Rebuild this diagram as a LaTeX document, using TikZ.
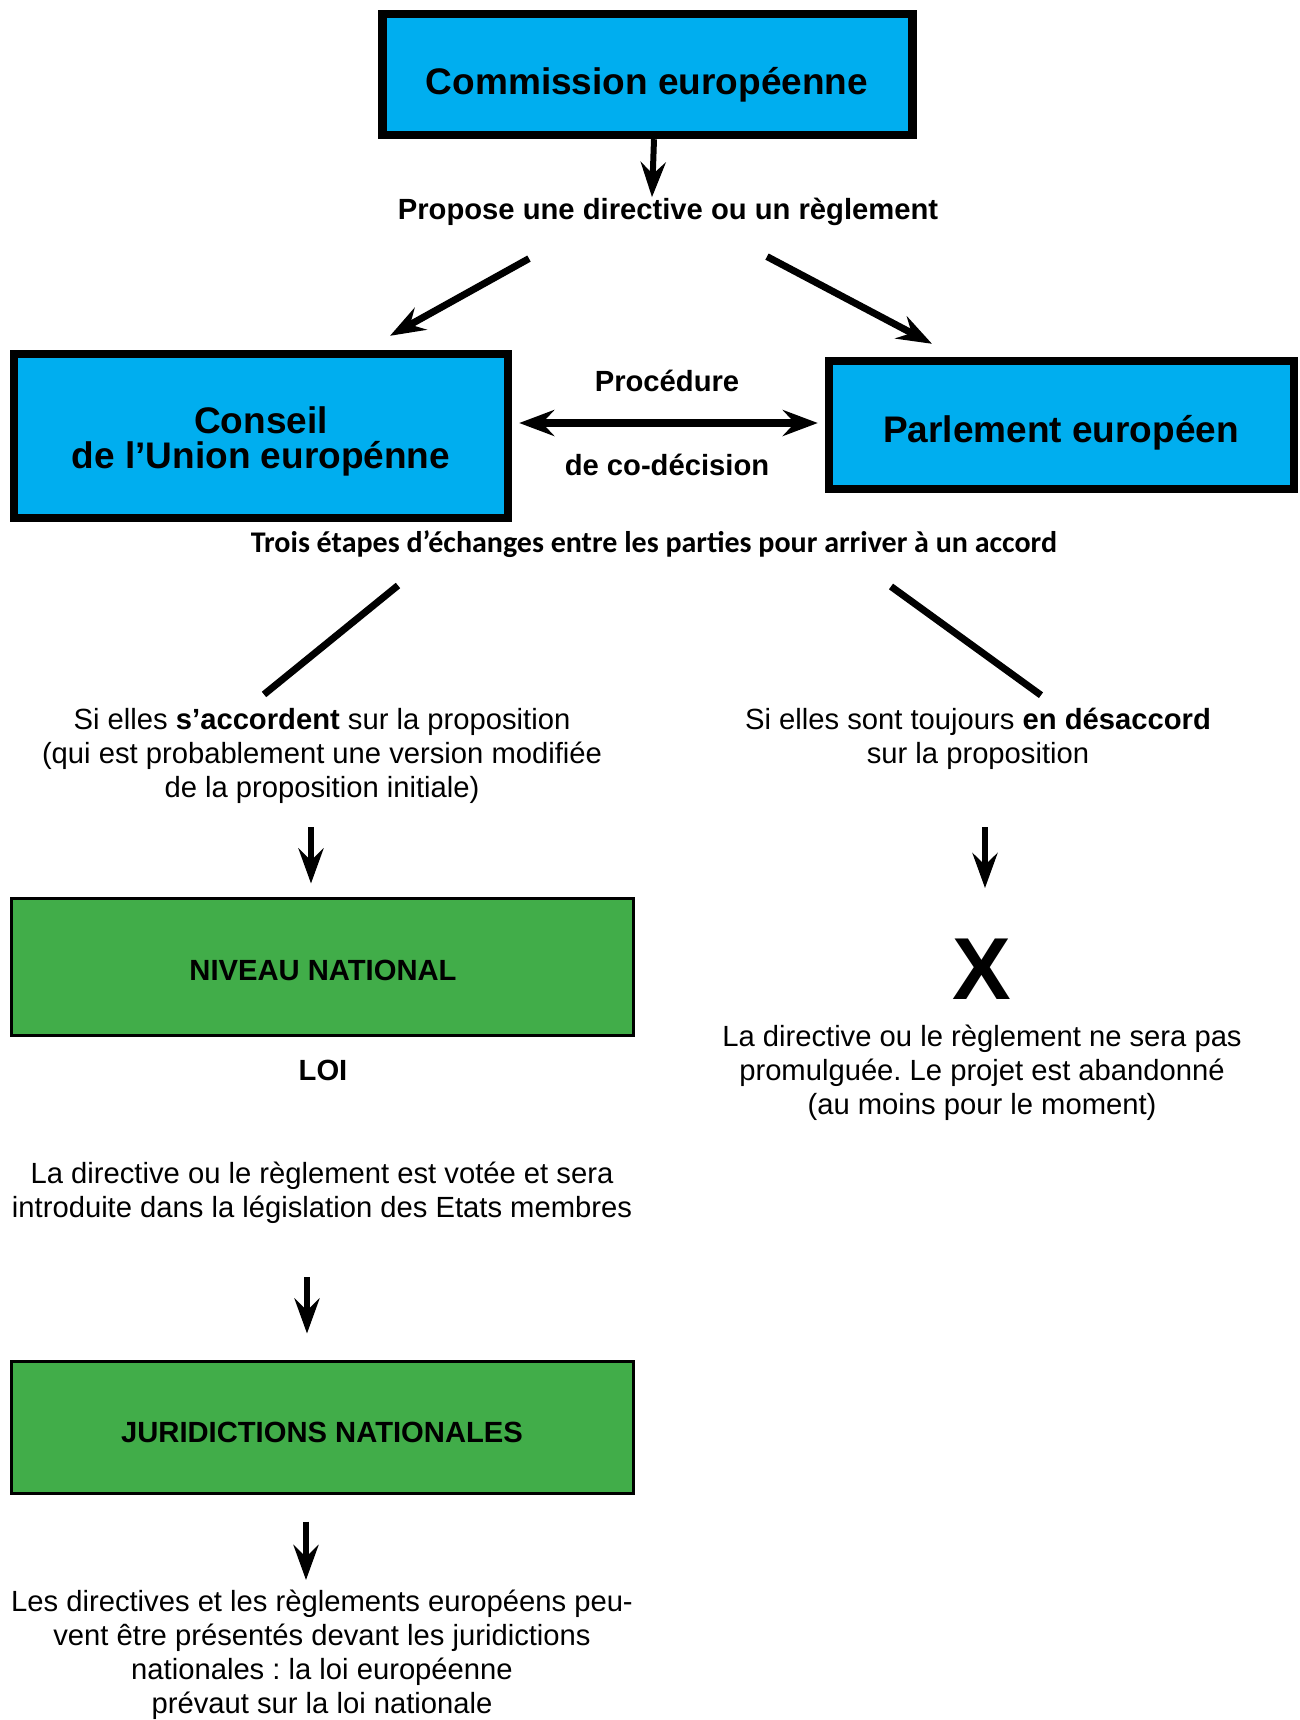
\documentclass[tikz,border=0pt]{standalone}
\usepackage{fontspec}
\setmainfont{Liberation Sans}
\newfontfamily\calib{Carlito}
\usetikzlibrary{arrows.meta,calc}
\definecolor{eublue}{RGB}{0,174,239}
\definecolor{natgreen}{RGB}{65,173,73}
\frenchspacing
\begin{document}
\begin{tikzpicture}[x=0.5pt,y=-0.5pt,
  bluebox/.style={draw=black,fill=eublue,line width=4.2pt,inner sep=0pt},
  greenbox/.style={draw=black,fill=natgreen,line width=1.5pt,inner sep=0pt,minimum width=311pt},
  bigtxt/.style={inner sep=0pt,anchor=base,align=center,font=\bfseries\fontsize{18.5}{17.5}\selectfont},
  hd/.style={inner sep=0pt,anchor=base,align=center,font=\bfseries\fontsize{14.6}{17}\selectfont},
  txt/.style={inner sep=0pt,anchor=base,align=center,font=\fontsize{14.6}{17}\selectfont},
  arr/.style={line width=3pt,-{Stealth[length=17.5pt,width=12.5pt,inset=6pt]}},
  darr/.style={line width=3.8pt,{Stealth[length=17.5pt,width=13pt,inset=6pt]}-{Stealth[length=17.5pt,width=13pt,inset=6pt]}},
  diagarr/.style={line width=3.5pt,-{Stealth[length=17.5pt,width=12.5pt,inset=6pt]}},
  branch/.style={line width=3.5pt}
]
\useasboundingbox (0,0) rectangle (1300,1720);
\fill[white] (0,0) rectangle (1300,1720);

% boxes
\node[bluebox,minimum width=265pt,minimum height=60.5pt] (comm) at (647.5,74.5) {};
\node[bluebox,minimum width=247pt,minimum height=82pt] (conseil) at (261,436) {};
\node[bluebox,minimum width=232.5pt,minimum height=64pt] (parl) at (1061.5,425) {};
\node[greenbox,minimum height=68.5pt] (niveau) at (322.5,967) {};
\node[greenbox,minimum height=66pt] (jur) at (322.5,1427.5) {};

% box texts
\node[bigtxt] (commt) at (647,94) {Commission européenne};
\node[bigtxt] (conseilt) at (261,468) {Conseil\\de l’Union europénne};
\node[bigtxt] (parlt) at (1061,442) {Parlement européen};
\node[hd] (niveaut) at (323,980) {NIVEAU NATIONAL};
\node[hd] (jurt) at (322,1442) {JURIDICTIONS NATIONALES};

% free texts
\node[hd] (propose) at (668,219) {Propose une directive ou un règlement};
\node[hd] (proc) at (667,391) {Procédure};
\node[hd] (codec) at (667,475) {de co-décision};
\node[inner sep=0pt,anchor=base,font=\calib\bfseries\fontsize{15}{17}\selectfont] (trois) at (654,552) {Trois étapes d’échanges entre les parties pour arriver à un accord};
\node[txt] (agree) at (322,797) {Si elles \textbf{s’accordent} sur la proposition\\(qui est probablement une version modifiée\\de la proposition initiale)};
\node[txt] (disagree) at (978,763) {Si elles sont toujours \textbf{en désaccord}\\sur la proposition};
\node[inner sep=0pt,anchor=base,font=\bfseries\fontsize{44}{44}\selectfont] (xmark) at (982,999) {X};
\node[txt] (abandon) at (982,1114) {La directive ou le règlement ne sera pas\\promulguée. Le projet est abandonné\\(au moins pour le moment)};
\node[hd] (loi) at (323,1080) {LOI};
\node[txt] (vote) at (322,1217) {La directive ou le règlement est votée et sera\\introduite dans la législation des Etats membres};
\node[txt,font=\fontsize{14.6}{16.85}\selectfont] (final) at (322,1713) {Les directives et les règlements européens peu-\\vent être présentés devant les juridictions\\nationales : la loi européenne\\prévaut sur la loi nationale};

% connectors
\draw[arr] ($(comm.south)+(6.5,0)$) -- ($(propose.north)+(-16,0)$);
\draw[diagarr] ($(propose.south)+(-139,33)$) -- ($(conseil.north)+(129,-14)$);
\draw[diagarr] ($(propose.south)+(99,31)$) -- ($(parl.north)+(-129.5,-13)$);
\draw[darr] ($(conseil.east)+(7,-13)$) -- ($(parl.west)+(-7,-2)$);
\draw[branch] ($(trois.south)+(-256,28)$) -- ($(agree.north)+(-58,-13)$);
\draw[branch] ($(trois.south)+(237,29)$) -- ($(disagree.north)+(63,-12)$);
\draw[arr] ($(agree.south)+(-11,24)$) -- ($(niveau.north)+(-11.5,-13.5)$);
\draw[arr] ($(disagree.south)+(7,58)$) -- ($(xmark.north)+(3,-50)$);
\draw[arr] ($(vote.south)+(-15,54)$) -- ($(jur.north)+(-15.5,-26.5)$);
\draw[arr] ($(jur.south)+(-16.5,26.5)$) -- ($(final.north)+(-16,-10)$);
\end{tikzpicture}
\end{document}
